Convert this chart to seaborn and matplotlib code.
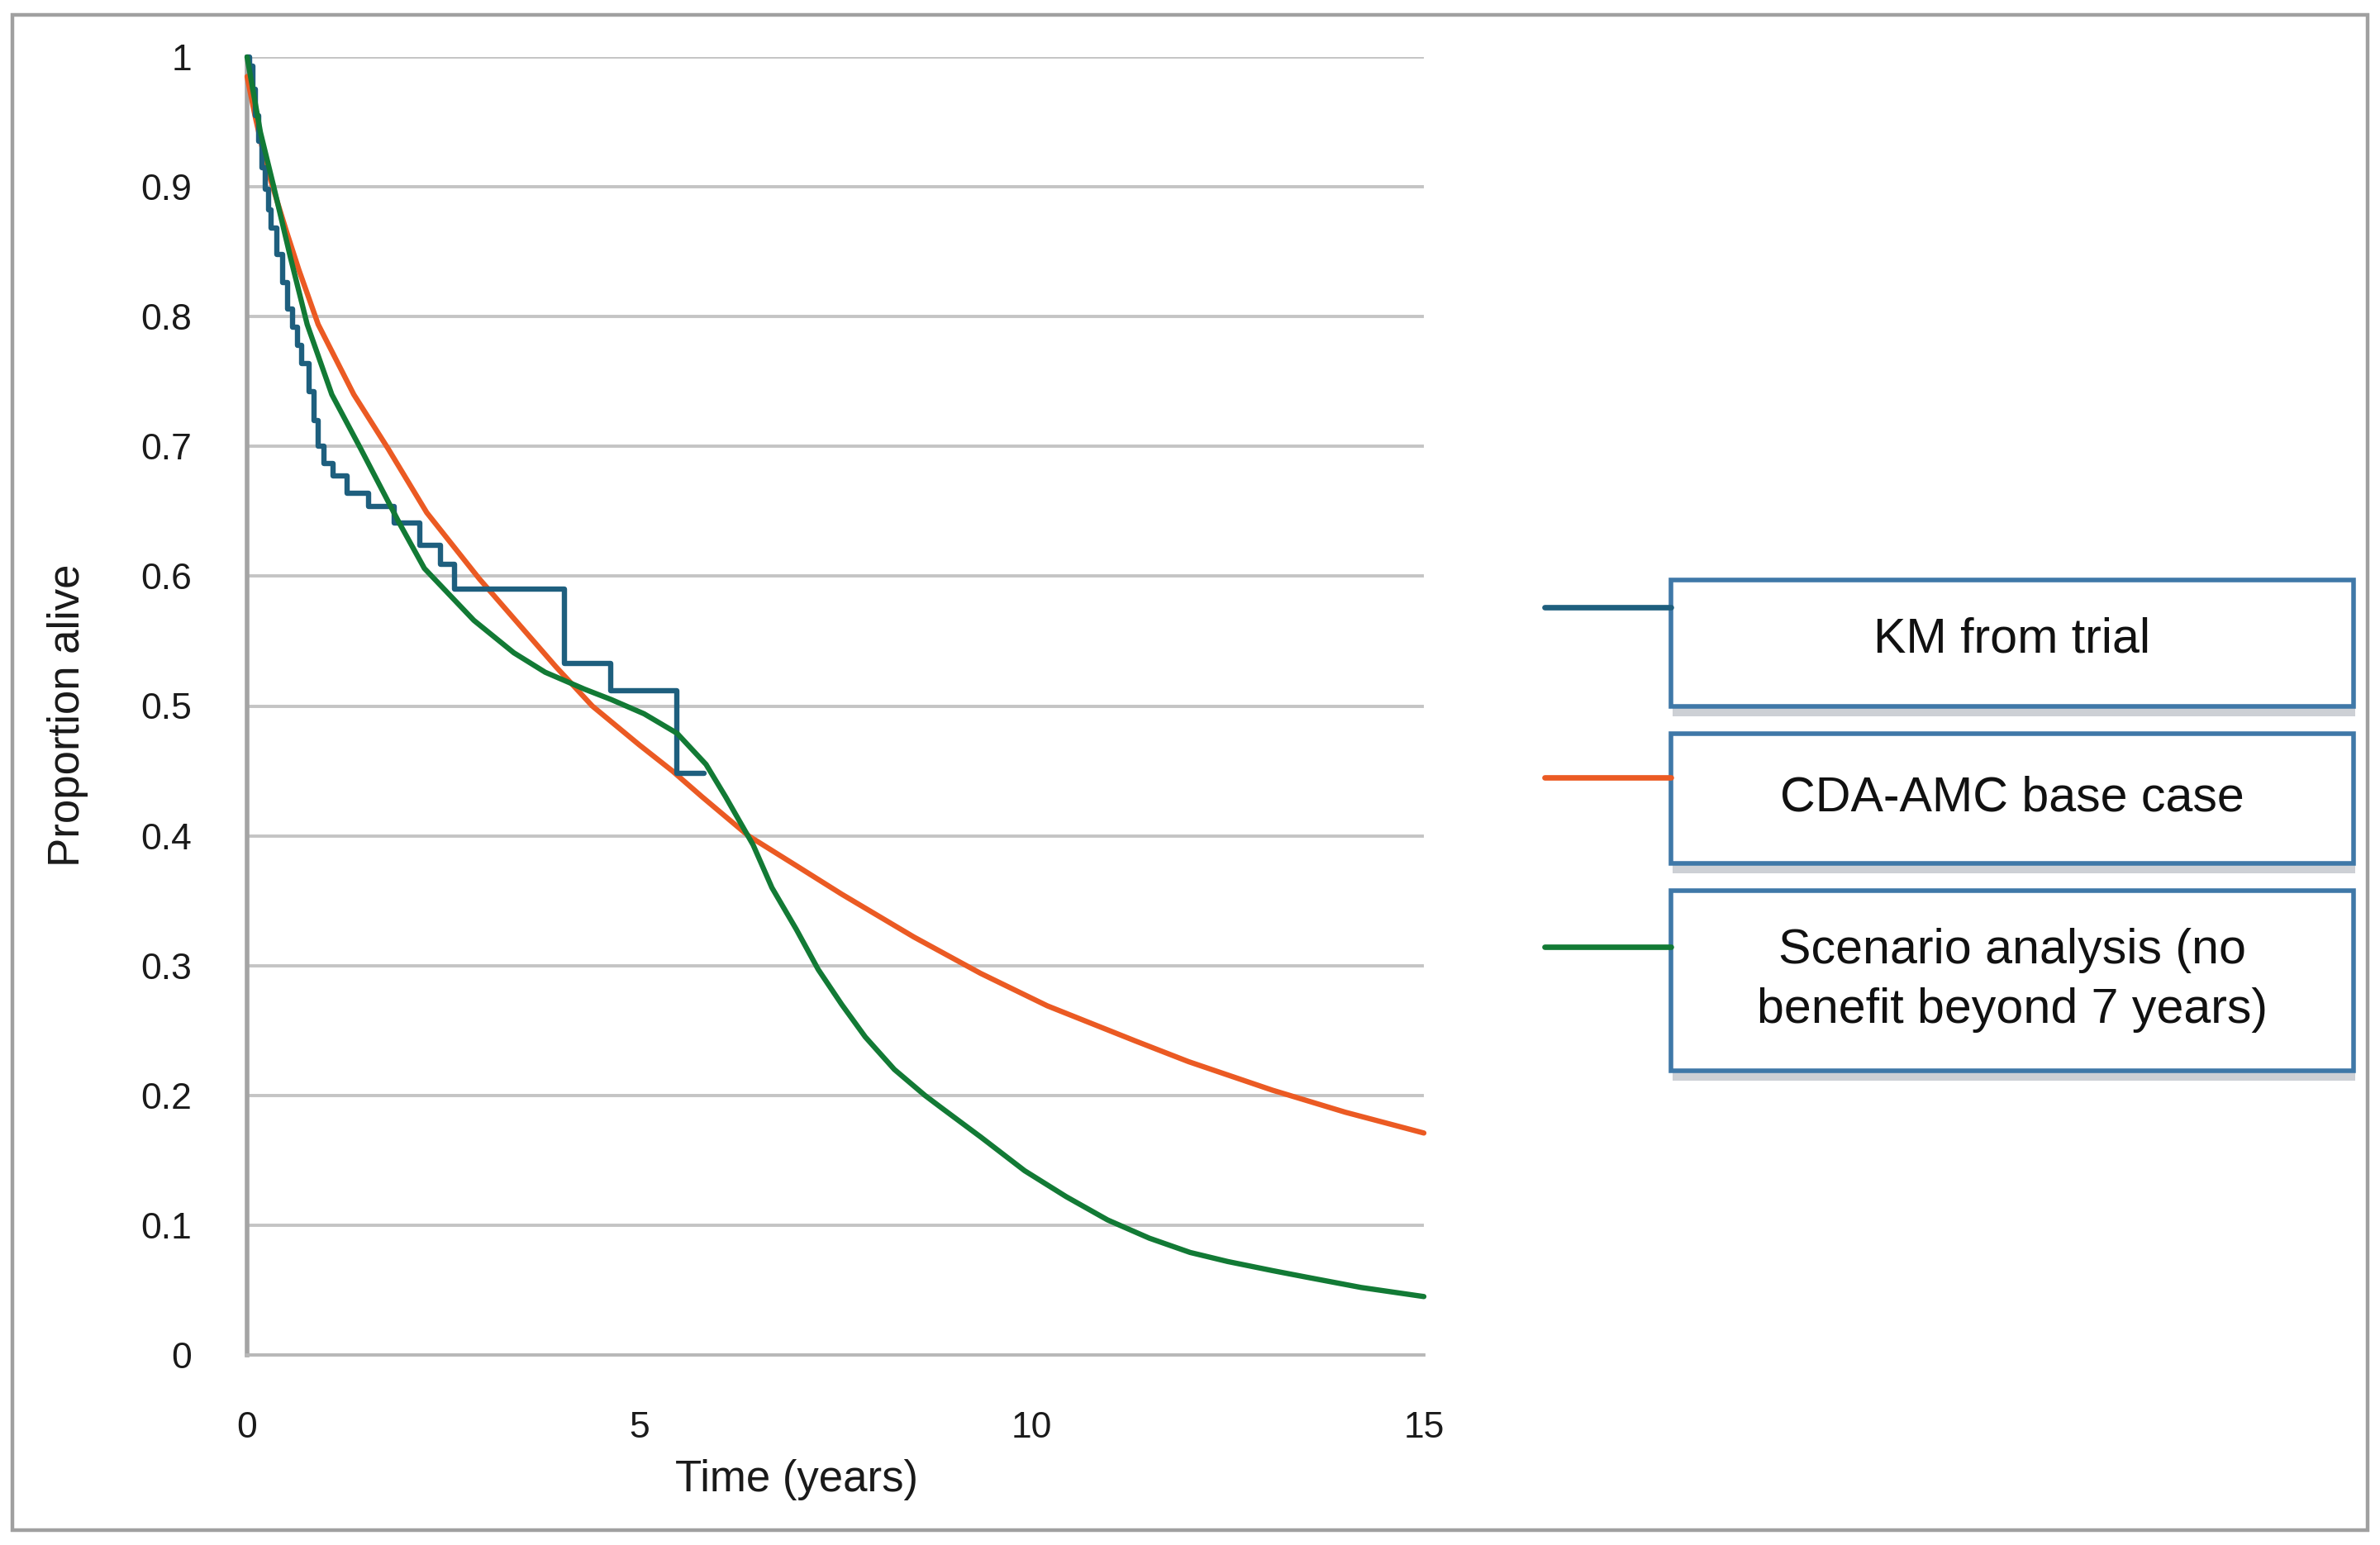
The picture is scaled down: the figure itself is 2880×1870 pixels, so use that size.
import numpy as np
import pandas as pd
import matplotlib
matplotlib.use("Agg")
import matplotlib.pyplot as plt
import matplotlib.patches as mpatches
from matplotlib.lines import Line2D
import seaborn as sns

# ── Data ──────────────────────────────────────────────────────────────────

km_time = [0.00, 0.03, 0.07, 0.11, 0.15, 0.19, 0.23, 0.27, 0.31, 0.38, 0.45, 0.52,
           0.58, 0.64, 0.70, 0.79, 0.85, 0.91, 0.98, 1.10, 1.27, 1.55, 1.87, 2.20,
           2.47, 2.64, 4.05, 4.63, 5.48, 5.82]
km_surv = [1.000, 0.993, 0.975, 0.955, 0.935, 0.915, 0.898, 0.882, 0.868, 0.848, 0.826, 0.806,
           0.792, 0.778, 0.764, 0.742, 0.720, 0.700, 0.687, 0.677, 0.664, 0.654, 0.641, 0.624,
           0.609, 0.590, 0.533, 0.512, 0.448, 0.448]

base_time = [0.0, 0.1, 0.25, 0.5, 0.66, 0.906, 1.36, 1.8, 2.29, 2.96, 3.94, 4.4, 5.0,
             5.42, 5.8, 6.39, 7.0, 7.58, 8.5, 9.35, 10.2, 11.32, 12.0, 13.07, 14.0, 15.0]
base_surv = [0.985, 0.955, 0.915, 0.866, 0.836, 0.794, 0.740, 0.698, 0.649, 0.598, 0.530,
             0.500, 0.470, 0.450, 0.430, 0.400, 0.377, 0.355, 0.322, 0.294, 0.269, 0.242,
             0.226, 0.204, 0.187, 0.171]

scen_time = [0.0, 0.17, 0.34, 0.555, 0.766, 1.08, 1.45, 1.94, 2.26, 2.89, 3.4, 3.8, 4.3,
             4.64, 5.06, 5.48, 5.85, 6.1, 6.45, 6.69, 7.0, 7.28, 7.58, 7.88, 8.25, 8.64,
             8.86, 9.35, 9.91, 10.44, 10.97, 11.5, 12.02, 12.5, 13.07, 13.5, 14.2, 15.0]
scen_surv = [1.0, 0.942, 0.900, 0.845, 0.794, 0.740, 0.698, 0.641, 0.606, 0.566, 0.541,
             0.526, 0.513, 0.505, 0.494, 0.479, 0.455, 0.430, 0.393, 0.360, 0.328, 0.297,
             0.270, 0.245, 0.220, 0.200, 0.190, 0.168, 0.142, 0.122, 0.104, 0.090, 0.079,
             0.072, 0.065, 0.060, 0.052, 0.045]

series_labels = ["KM from trial", "CDA-AMC base case",
                 "Scenario analysis (no\nbenefit beyond 7 years)"]
series_colors = ["#1e5f7e", "#eb5a23", "#127a35"]

x_ticks = [0, 5, 10, 15]
y_ticks = [0, 0.1, 0.2, 0.3, 0.4, 0.5, 0.6, 0.7, 0.8, 0.9, 1.0]
y_tick_labels = ["0", "0.1", "0.2", "0.3", "0.4", "0.5", "0.6", "0.7", "0.8", "0.9", "1"]

# ── Figure ─────────────────────────────────────────────────────────────────

sns.set_theme(style="white")
plt.rcParams["font.family"] = ["Liberation Sans", "DejaVu Sans"]

W, H = 2880, 1870
fig = plt.figure(figsize=(W / 200, H / 200), dpi=200)
fig.patch.set_facecolor("white")


def fx(px):
    return px / W


def fy(py):
    return 1 - py / H


ax = fig.add_axes([fx(299), fy(1640), fx(1723) - fx(299), fy(69) - fy(1640)])

km_df = pd.DataFrame({"time": km_time, "surv": km_surv})
base_df = pd.DataFrame({"time": base_time, "surv": base_surv})
scen_df = pd.DataFrame({"time": scen_time, "surv": scen_surv})

line_kw = dict(linewidth=2.3, estimator=None, clip_on=False,
               solid_joinstyle="round", solid_capstyle="round")
sns.lineplot(data=base_df, x="time", y="surv", ax=ax, color=series_colors[1],
             zorder=3, **line_kw)
sns.lineplot(data=km_df, x="time", y="surv", ax=ax, color=series_colors[0],
             drawstyle="steps-post", zorder=4, **line_kw)
sns.lineplot(data=scen_df, x="time", y="surv", ax=ax, color=series_colors[2],
             zorder=5, **line_kw)

ax.set_xlim(0, 15)
ax.set_ylim(0, 1)
ax.set_xticks(x_ticks)
ax.set_xticklabels([str(t) for t in x_ticks])
ax.set_yticks(y_ticks)
ax.set_yticklabels(y_tick_labels)
ax.tick_params(axis="both", length=0, labelsize=16, colors="#1a1a1a")
ax.tick_params(axis="x", pad=24.5)
ax.tick_params(axis="y", pad=24)

ax.yaxis.grid(True, color="#c4c4c4", linewidth=1.4)
ax.xaxis.grid(False)
ax.set_axisbelow(True)
for side in ["top", "right"]:
    ax.spines[side].set_visible(False)
ax.spines["bottom"].set_color("#b8b8b8")
ax.spines["bottom"].set_linewidth(1.4)
ax.spines["left"].set_color("#a4a4a4")
ax.spines["left"].set_linewidth(2.0)

ax.set_xlabel("")
ax.set_ylabel("")
fig.text(fx(964), fy(1791), "Time (years)", fontsize=19, ha="center", va="center",
         color="#1a1a1a")
fig.text(fx(82), fy(866), "Proportion alive", fontsize=19, ha="center", va="center",
         rotation=90, color="#1a1a1a")

# ── Outer frame ────────────────────────────────────────────────────────────

fig.add_artist(mpatches.Rectangle((fx(15), fy(1852)), fx(2865) - fx(15), fy(18) - fy(1852),
                                  transform=fig.transFigure, fill=False,
                                  edgecolor="#a0a0a0", linewidth=1.6))

# ── Boxed legend ───────────────────────────────────────────────────────────

boxes = [(702, 855, 735, [774]), (888, 1045, 941, [966]), (1078, 1296, 1146, [1150, 1222])]
bx0, bx1 = 2022, 2848
for (top, bot, hy, ty), label, color in zip(boxes, series_labels, series_colors):
    # drop shadow
    fig.add_artist(mpatches.Rectangle((fx(bx0 + 2), fy(bot + 12)), fx(bx1 - bx0), fy(bot) - fy(bot + 12),
                                      transform=fig.transFigure, facecolor="#b9bcc4",
                                      edgecolor="none", alpha=0.7, zorder=1))
    fig.add_artist(mpatches.Rectangle((fx(bx0), fy(bot)), fx(bx1 - bx0), fy(top) - fy(bot),
                                      transform=fig.transFigure, facecolor="white",
                                      edgecolor="#3f78a8", linewidth=2.0, zorder=2))
    fig.add_artist(Line2D([fx(1869), fx(bx0)], [fy(hy), fy(hy)], transform=fig.transFigure,
                          color=color, linewidth=2.4, zorder=3))
    lines = label.split("\n")
    for line, y in zip(lines, ty):
        fig.text(fx((bx0 + bx1) / 2), fy(y), line, fontsize=21.3, ha="center", va="center",
                 color="#111111", zorder=4)

fig.savefig("out.png", dpi=200, facecolor="white")
